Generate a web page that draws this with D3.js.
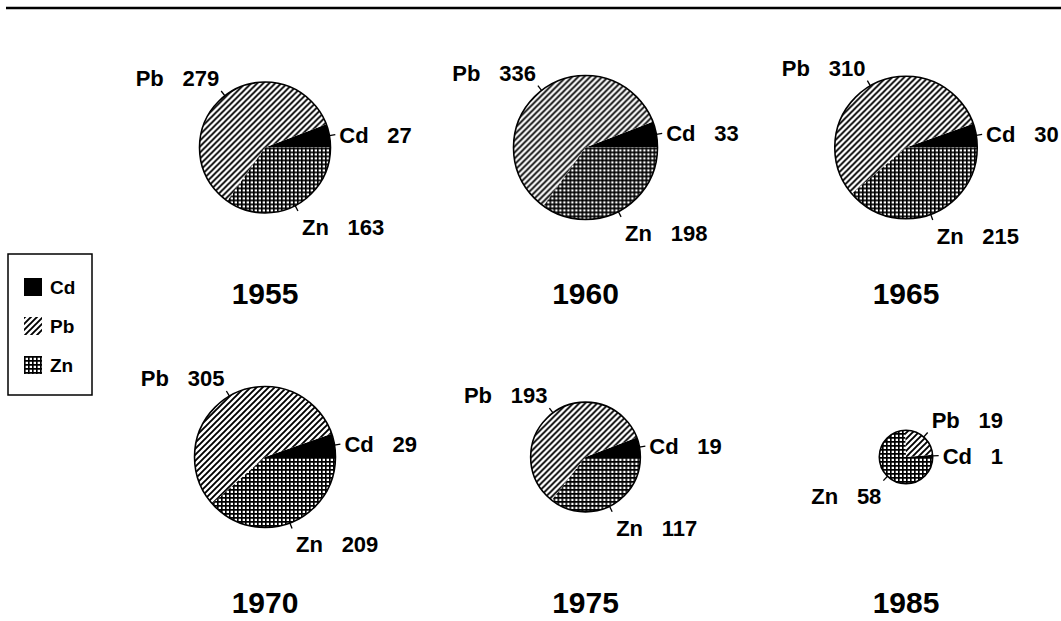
<!DOCTYPE html>
<html>
<head>
<meta charset="utf-8">
<script src="https://cdn.jsdelivr.net/npm/d3@7"></script>
<style>
  body { margin: 0; background: #fff; }
  svg { display: block; overflow: hidden; }
  text { font-family: "Liberation Sans", Arial, sans-serif; font-weight: bold; fill: #000; }
</style>
</head>
<body>
<svg id="chart" width="1061" height="621"></svg>
<script>
// 데이터
const years = ["1955", "1960", "1965", "1970", "1975", "1985"];
const elements = ["Cd", "Pb", "Zn"];
const cdValues = [27, 33, 30, 29, 19, 1];
const pbValues = [279, 336, 310, 305, 193, 19];
const znValues = [163, 198, 215, 209, 117, 58];

const W = 1061, H = 621;
const svg = d3.select("#chart");

// 패턴 정의
const defs = svg.append("defs");
const hatch = defs.append("pattern").attr("id", "pat-Pb")
    .attr("patternUnits", "userSpaceOnUse").attr("width", 6).attr("height", 6);
hatch.append("rect").attr("width", 6).attr("height", 6).attr("fill", "#fff");
hatch.append("path").attr("d", "M-1,1 l2,-2 M0,6 l6,-6 M5,7 l2,-2")
    .attr("stroke", "#000").attr("stroke-width", 1.9);

const grid = defs.append("pattern").attr("id", "pat-Zn")
    .attr("patternUnits", "userSpaceOnUse").attr("width", 4).attr("height", 4);
grid.append("rect").attr("width", 4).attr("height", 4).attr("fill", "#fff");
grid.append("path").attr("d", "M0,0.8 H4 M0.8,0 V4")
    .attr("stroke", "#000").attr("stroke-width", 1.7);

const fillFor = { Cd: "#000", Pb: "url(#pat-Pb)", Zn: "url(#pat-Zn)" };

// 상단 선
svg.append("line").attr("x1", 6).attr("x2", W).attr("y1", 8).attr("y2", 8)
    .attr("stroke", "#000").attr("stroke-width", 2.5);

// 스케일
const col = d3.scalePoint().domain([0, 1, 2]).range([265, 906]);
const row = d3.scalePoint().domain([0, 1]).range([147.5, 457]);
const radius = d3.scaleSqrt().domain([0, 567]).range([0, 72]);

// 3시 방향에서 시작해 반시계 방향으로
const pie = d3.pie().sort(null).value(d => d.value)
    .startAngle(Math.PI / 2).endAngle(Math.PI / 2 - 2 * Math.PI);

const LABEL_FS = 22;

years.forEach((year, i) => {
    const cx = col(i % 3), cy = row(Math.floor(i / 3));
    const slices = [
        { key: "Cd", value: cdValues[i] },
        { key: "Pb", value: pbValues[i] },
        { key: "Zn", value: znValues[i] }
    ];
    const r = radius(d3.sum(slices, d => d.value));
    const arc = d3.arc().innerRadius(0).outerRadius(r);
    const g = svg.append("g").attr("transform", `translate(${cx},${cy})`);
    const arcs = pie(slices);

    g.selectAll("path.slice").data(arcs).enter().append("path")
        .attr("class", "slice")
        .attr("d", arc)
        .attr("fill", d => fillFor[d.data.key]);

    g.append("circle").attr("r", r).attr("fill", "none")
        .attr("stroke", "#000").attr("stroke-width", 1.6);

    arcs.forEach(d => {
        const m = (d.startAngle + d.endAngle) / 2;
        const sx = Math.sin(m), sy = -Math.cos(m);
        const ex = sx * (r + 6), ey = sy * (r + 6);
        g.append("line")
            .attr("x1", sx * r).attr("y1", sy * r)
            .attr("x2", ex).attr("y2", ey)
            .attr("stroke", "#000").attr("stroke-width", 1.3);

        const right = sx >= 0;
        let ty, dy = "0";
        if (sy < -0.5) { ty = ey - 5; }
        else if (sy > 0.5) { ty = ey + 8 + LABEL_FS * 0.72; }
        else { ty = ey; dy = "0.36em"; }
        const t = g.append("text")
            .attr("x", ex + (right ? 4 : -2)).attr("y", ty).attr("dy", dy)
            .attr("text-anchor", right ? "start" : "end")
            .style("font-size", LABEL_FS + "px")
            .text(d.data.key);
        t.append("tspan").attr("dx", "0.85em").text(d.data.value);
    });

    svg.append("text")
        .attr("x", cx).attr("y", cy + 156)
        .attr("text-anchor", "middle")
        .style("font-size", "30px")
        .text(year);
});

// 범례
const legend = svg.append("g");
legend.append("rect").attr("x", 8).attr("y", 254).attr("width", 84).attr("height", 141)
    .attr("fill", "#fff").attr("stroke", "#000").attr("stroke-width", 1.5);
const ly = d3.scalePoint().domain(elements).range([287, 365]);
elements.forEach(el => {
    legend.append("rect").attr("x", 24).attr("y", ly(el) - 9).attr("width", 18).attr("height", 18)
        .attr("fill", fillFor[el]);
    legend.append("text").attr("x", 50).attr("y", ly(el)).attr("dy", "0.36em")
        .style("font-size", "19px").text(el);
});
</script>
</body>
</html>
